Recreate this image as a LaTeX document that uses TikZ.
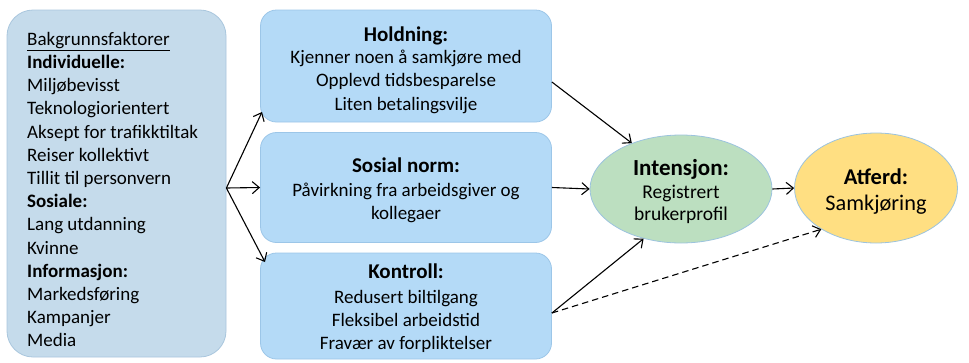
\documentclass[tikz,border=0pt]{standalone}
\usepackage{fontspec}
\setmainfont{Carlito}
\usetikzlibrary{arrows.meta,shapes.geometric}
\definecolor{bgfill}{HTML}{C5DBEB}
\definecolor{bgline}{HTML}{A9C6DD}
\definecolor{boxfill}{HTML}{B4DAF7}
\definecolor{boxline}{HTML}{9CC6E8}
\definecolor{intfill}{HTML}{BCDFC0}
\definecolor{atffill}{HTML}{FFDF82}
\definecolor{ellline}{HTML}{9CC3DE}
\tikzset{
  factorbox/.style={draw=boxline, fill=boxfill, rounded corners=16pt, line width=0.8pt,
    minimum width=291pt, inner sep=0pt},
  bodytext/.style={font=\fontsize{19}{23.2}\selectfont, inner sep=0pt, text=black},
  ovalbox/.style={ellipse, draw=ellline, line width=0.8pt, inner sep=0pt},
  link/.style={-{Straight Barb[length=7pt,width=12pt]}, line width=1.1pt},
  dashlink/.style={link, dashed, dash pattern=on 6.5pt off 4pt}
}
\newcommand{\boxtitle}[1]{{\fontsize{21}{23}\selectfont\bfseries #1}}
\begin{document}
\begin{tikzpicture}[x=1pt,y=-1pt]
  \useasboundingbox (0,0) rectangle (969,362);

  % background factors
  \node[draw=bgline, fill=bgfill, rounded corners=26pt, line width=0.8pt,
        minimum width=219pt, minimum height=347pt, inner sep=0pt] (bg) at (116.5,183.5) {};
  \node[anchor=north west, align=left, bodytext] (bgtext) at (27,32) {%
    \underline{Bakgrunnsfaktorer}\\
    \textbf{Individuelle:}\\
    Miljøbevisst\\
    Teknologiorientert\\
    Aksept for trafikktiltak\\
    Reiser kollektivt\\
    Tillit til personvern\\
    \textbf{Sosiale:}\\
    Lang utdanning\\
    Kvinne\\
    \textbf{Informasjon:}\\
    Markedsføring\\
    Kampanjer\\
    Media};

  % attitude, social norm, control
  \node[factorbox, minimum height=112pt] (hold) at (406,66) {};
  \node[bodytext, align=center, yshift=-4pt] (holdtxt) at (hold.center) {%
    \boxtitle{Holdning:}\\[-1pt]
    Kjenner noen å samkjøre med\\
    Opplevd tidsbesparelse\\
    Liten betalingsvilje};
  \node[factorbox, minimum height=110pt] (norm) at (406,187.5) {};
  \node[bodytext, align=center, yshift=-3pt] (normtxt) at (norm.center) {%
    \boxtitle{Sosial norm:}\\[1pt]
    Påvirkning fra arbeidsgiver og\\
    kollegaer};
  \node[factorbox, minimum height=106pt] (kontr) at (406,306) {};
  \node[bodytext, align=center, yshift=-2pt] (kontrtxt) at (kontr.center) {%
    \boxtitle{Kontroll:}\\[2pt]
    Redusert biltilgang\\
    Fleksibel arbeidstid\\
    Fravær av forpliktelser};

  % intention and behaviour
  \node[ovalbox, fill=intfill, minimum width=182pt, minimum height=108pt] (int) at (681,189) {};
  \node[bodytext, align=center, yshift=-2.5pt, font=\fontsize{19.5}{22.5}\selectfont] (inttxt) at (int.center) {%
    {\fontsize{23}{22.5}\selectfont\bfseries Intensjon:}\\
    Registrert\\
    brukerprofil};
  \node[ovalbox, fill=atffill, minimum width=163pt, minimum height=110pt] (atf) at (876,188) {};
  \node[bodytext, align=center, yshift=-4pt, font=\fontsize{22.3}{26}\selectfont] (atftxt) at (atf.center) {%
    {\fontsize{22.5}{26}\selectfont\bfseries Atferd:}\\
    Samkjøring};

  % connectors
  \coordinate (fork) at (bg.east |- 0,188);
  \coordinate (kout) at (kontr.east |- 0,313);
  \draw[link] (fork) -- (262,112);
  \draw[link] (fork) -- (norm.west);
  \draw[link] (fork) -- (265,262);
  \draw[link] (hold.east |- 0,82) -- (int.137);
  \draw[link] (norm.east) -- (int.west);
  \draw[link] (kout) -- (int.233);
  \draw[dashlink] (kout) -- (atf.217);
  \draw[link] (int.east) -- (atf.west);
\end{tikzpicture}
\end{document}
